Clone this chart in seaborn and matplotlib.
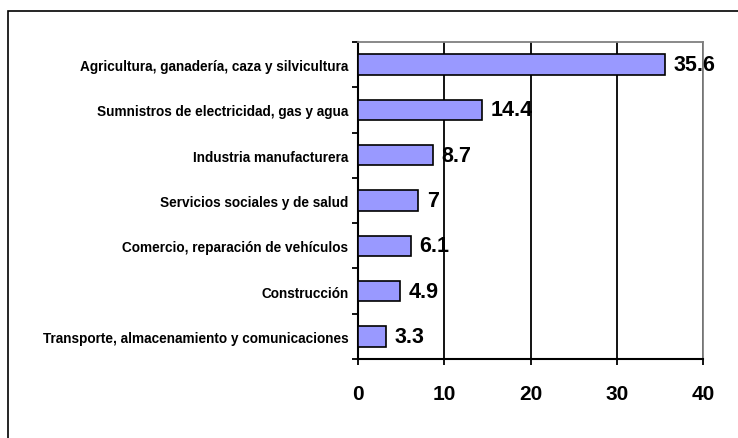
import seaborn as sns
import matplotlib.pyplot as plt
import pandas as pd
from matplotlib.patches import Rectangle

sectores = [
    'Agricultura, ganadería, caza y silvicultura',
    'Sumnistros de electricidad, gas y agua',
    'Industria manufacturera',
    'Servicios sociales y de salud',
    'Comercio, reparación de vehículos',
    'Construcción',
    'Transporte, almacenamiento y comunicaciones',
]
valores = [35.6, 14.4, 8.7, 7, 6.1, 4.9, 3.3]
etiquetas = ['35.6', '14.4', '8.7', '7', '6.1', '4.9', '3.3']

df = pd.DataFrame({'sector': sectores, 'valor': valores})

sns.set_style('white')
plt.rcParams['font.family'] = ['Liberation Sans', 'DejaVu Sans']
plt.rcParams['text.color'] = 'black'
plt.rcParams['xtick.color'] = 'black'
plt.rcParams['ytick.color'] = 'black'

fig = plt.figure(figsize=(7.38, 4.39), dpi=100)
ax = fig.add_axes([358 / 738, 1 - 360 / 439, (703 - 358) / 738, (360 - 43) / 439])

# marco exterior
fig.patches.append(Rectangle((8 / 738, -0.1), 1.2, 1 - 12 / 439 + 0.1,
                             transform=fig.transFigure, fill=False,
                             edgecolor='black', linewidth=1.2, zorder=0))

sns.barplot(data=df, x='valor', y='sector', order=sectores, color='#9999FF',
            saturation=1, width=0.45, edgecolor='black', linewidth=1.2, ax=ax, zorder=3)

ax.set_xlim(0, 40)
ax.set_ylim(6.5, -0.5)
ax.set_xticks([0, 10, 20, 30, 40])
ax.grid(axis='x', color='black', linewidth=1.3, zorder=0)
ax.set_axisbelow(True)

for i, (v, t) in enumerate(zip(valores, etiquetas)):
    ax.annotate(t, (v, i), xytext=(6, 0), textcoords='offset points',
                va='center', ha='left', fontsize=15.5, fontweight='bold',
                color='black', annotation_clip=False, zorder=5)

for lado in ['top', 'right']:
    ax.spines[lado].set_color('#808080')
    ax.spines[lado].set_linewidth(1.3)
for lado in ['left', 'bottom']:
    ax.spines[lado].set_color('black')
    ax.spines[lado].set_linewidth(1.5)

ax.set_yticks([i + 0.5 for i in range(-1, 7)], minor=True)
ax.tick_params(axis='y', which='major', length=0, pad=7, labelsize=9.8, labelcolor='black')
ax.tick_params(axis='y', which='minor', left=True, length=4, width=1.3, color='black')
ax.tick_params(axis='x', bottom=True, length=4, width=1.3, color='black', pad=14,
               labelsize=15, labelcolor='black')
for lbl in ax.get_yticklabels() + ax.get_xticklabels():
    lbl.set_fontweight('bold')

ax.set_xlabel('')
ax.set_ylabel('')

fig.savefig('out.png', dpi=100)
